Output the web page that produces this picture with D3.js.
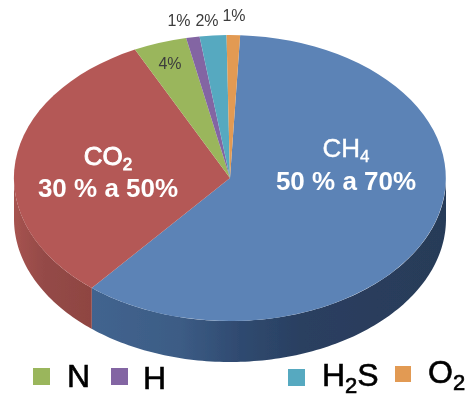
<!DOCTYPE html>
<html>
<head>
<meta charset="utf-8">
<script src="https://cdn.jsdelivr.net/npm/d3@7"></script>
<style>
html, body { margin: 0; padding: 0; background: #fff; }
svg { display: block; }
text { font-family: "Liberation Sans", Arial, sans-serif; }
</style>
</head>
<body>
<script>
var gases = ["CH4", "CO2", "N", "H", "H2S", "O2"];
var shares = [60.3, 31.7, 4, 1, 2, 1];
var shareLabels = ["", "", "4%", "1%", "2%", "1%"];
var colors = ["#5c83b6", "#b45956", "#9ab65c", "#8365a3", "#57a9c0", "#e29a52"];
var mainNames = [["CH", "4"], ["CO", "2"]];
var mainRanges = ["50 % a 70%", "30 % a 50%"];
var legendNames = [["N"], ["H"], ["H", "2", "S"], ["O", "2"]];
var legendColors = ["#9ab65c", "#8365a3", "#57a9c0", "#e29a52"];

var width = 468, height = 408;
var cx = 230, cy = 178, rx = 216, ry = 143, depth = 41;
var startDeg = 2.7;

// layout only, one entry per label
var smallPos = [null, null, [170, 69], [179, 26], [207, 26], [234, 21]];
var mainPos = [[346, 157, 190], [108, 165, 197]];
var swatchPos = [[33, 368, 17], [111, 368, 17], [288, 369, 17], [395, 366, 16]];
var legendPos = [[67, 387], [143, 389], [322, 386], [428, 383]];

var svg = d3.select("body").append("svg")
    .attr("width", width)
    .attr("height", height);

var defs = svg.append("defs");

function gradient(id, x1, x2, stops) {
    var g = defs.append("linearGradient")
        .attr("id", id)
        .attr("gradientUnits", "userSpaceOnUse")
        .attr("x1", x1).attr("x2", x2).attr("y1", 0).attr("y2", 0);
    stops.forEach(function(s) {
        g.append("stop").attr("offset", s[0]).attr("stop-color", s[1]);
    });
}
gradient("sideBlue", 91, 446, [[0, "#42648f"], [0.25, "#3c5c85"], [0.42, "#2f4a70"], [0.6, "#2a3f60"], [1, "#283b58"]]);
gradient("sideRed", 14, 91, [[0, "#a65350"], [0.4, "#944a47"], [1, "#8f4542"]]);

defs.append("filter").attr("id", "soft")
    .append("feGaussianBlur").attr("stdDeviation", 0.45);

var pie = d3.pie()
    .sort(null)
    .startAngle(startDeg * Math.PI / 180)
    .endAngle((startDeg + 360) * Math.PI / 180);

var arcs = pie(shares);

var arc = d3.arc().innerRadius(0).outerRadius(1);

// point on the rim of the tilted disc, angle clockwise from the top
function rim(a, drop) {
    return [cx + rx * Math.sin(a), cy - ry * Math.cos(a) + drop];
}

// the wall only shows on the front half
function wall(a0, a1) {
    var from = Math.max(a0, Math.PI / 2), to = Math.min(a1, Math.PI * 1.5);
    if (to <= from) return null;
    var angles = d3.range(from, to, 0.02).concat([to]);
    var top = angles.map(function(a) { return rim(a, 0); });
    var bottom = angles.slice().reverse().map(function(a) { return rim(a, depth); });
    return d3.line()(top.concat(bottom)) + "Z";
}

var chart = svg.append("g").attr("filter", "url(#soft)");

chart.selectAll("path.side")
    .data(arcs.slice(0, 2))
    .enter().append("path")
    .attr("class", "side")
    .attr("d", function(d) { return wall(d.startAngle, d.endAngle); })
    .attr("fill", function(d, i) { return i == 0 ? "url(#sideBlue)" : "url(#sideRed)"; });

chart.append("g")
    .attr("transform", "translate(" + cx + "," + cy + ") scale(" + rx + "," + ry + ")")
    .selectAll("path.slice")
    .data(arcs)
    .enter().append("path")
    .attr("class", "slice")
    .attr("d", arc)
    .attr("fill", function(d, i) { return colors[i]; });

// small percent labels
var labels = svg.append("g").attr("filter", "url(#soft)");

shareLabels.forEach(function(label, i) {
    if (label == "") return;
    labels.append("text")
        .attr("x", smallPos[i][0])
        .attr("y", smallPos[i][1])
        .attr("text-anchor", "middle")
        .attr("font-size", 16)
        .attr("fill", "#3c3c3c")
        .text(label);
});

// text with a lowered second piece, the subscript
function subText(parent, parts, x, y, size, subSize, subDrop, anchor) {
    var t = parent.append("text")
        .attr("x", x)
        .attr("y", y)
        .attr("text-anchor", anchor)
        .attr("font-size", size);
    parts.forEach(function(p, i) {
        var ts = t.append("tspan").text(p);
        if (i == 1) ts.attr("font-size", subSize).attr("dy", subDrop);
        if (i == 2) ts.attr("dy", -subDrop);
    });
    return t;
}

mainNames.forEach(function(parts, i) {
    subText(labels, parts, mainPos[i][0], mainPos[i][1], 26, 17, 5, "middle")
        .attr("fill", "#fff")
        .attr("stroke", "#fff")
        .attr("stroke-width", i == 1 ? 0.9 : 0.4);
    labels.append("text")
        .attr("x", mainPos[i][0])
        .attr("y", mainPos[i][2])
        .attr("text-anchor", "middle")
        .attr("font-size", 26)
        .attr("font-weight", "bold")
        .attr("fill", "#fff")
        .text(mainRanges[i]);
});

// legend
var legend = svg.append("g").attr("filter", "url(#soft)");

legendColors.forEach(function(color, i) {
    legend.append("rect")
        .attr("x", swatchPos[i][0])
        .attr("y", swatchPos[i][1])
        .attr("width", swatchPos[i][2])
        .attr("height", swatchPos[i][2])
        .attr("fill", color);
    subText(legend, legendNames[i], legendPos[i][0], legendPos[i][1], 32, 22, 7, "start")
        .attr("fill", "#000")
        .attr("stroke", "#000")
        .attr("stroke-width", 0.6);
});
</script>
</body>
</html>
